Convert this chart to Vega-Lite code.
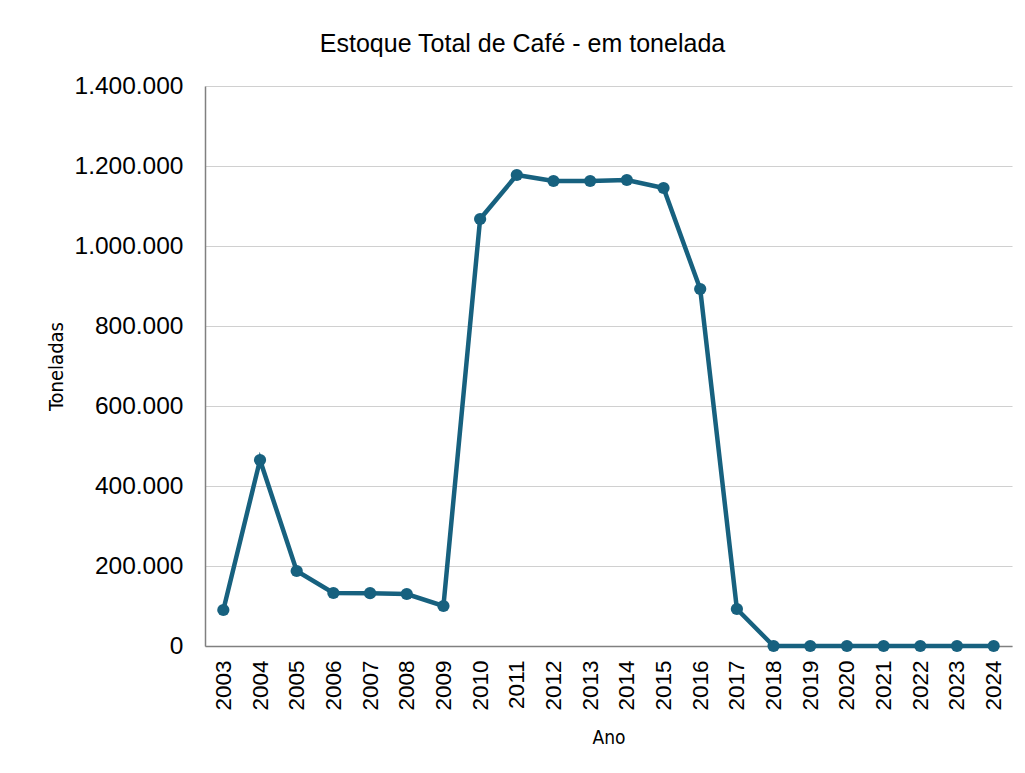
{
  "$schema": "https://vega.github.io/schema/vega-lite/v6.json",
  "width": 807,
  "height": 560,
  "autosize": {"type": "none"},
  "padding": {"left": 205, "top": 86, "right": 13, "bottom": 127},
  "background": "white",
  "config": {
    "locale": {"number": {"decimal": ",", "thousands": ".", "grouping": [3], "currency": ["R$", ""]}},
    "view": {"stroke": null},
    "font": "Liberation Sans"
  },
  "title": {
    "text": "Estoque Total de Café - em tonelada",
    "font": "Liberation Sans",
    "fontSize": 25,
    "fontWeight": "normal",
    "color": "#000000",
    "offset": 16,
    "anchor": "middle",
    "dx": -86
  },
  "data": {
    "values": [
      {"ano": "2003", "toneladas": 90000},
      {"ano": "2004", "toneladas": 465000},
      {"ano": "2005", "toneladas": 187500},
      {"ano": "2006", "toneladas": 132500},
      {"ano": "2007", "toneladas": 132000},
      {"ano": "2008", "toneladas": 130000},
      {"ano": "2009", "toneladas": 100000},
      {"ano": "2010", "toneladas": 1067500},
      {"ano": "2011", "toneladas": 1177500},
      {"ano": "2012", "toneladas": 1162500},
      {"ano": "2013", "toneladas": 1162500},
      {"ano": "2014", "toneladas": 1165000},
      {"ano": "2015", "toneladas": 1145000},
      {"ano": "2016", "toneladas": 892500},
      {"ano": "2017", "toneladas": 92500},
      {"ano": "2018", "toneladas": 0},
      {"ano": "2019", "toneladas": 0},
      {"ano": "2020", "toneladas": 0},
      {"ano": "2021", "toneladas": 0},
      {"ano": "2022", "toneladas": 0},
      {"ano": "2023", "toneladas": 0},
      {"ano": "2024", "toneladas": 0}
    ]
  },
  "mark": {"type": "line", "color": "#17617f", "strokeWidth": 4.5, "point": {"filled": true, "size": 150, "color": "#17617f", "opacity": 1}},
  "encoding": {
    "x": {
      "field": "ano",
      "type": "ordinal",
      "scale": {"type": "point", "padding": 0.5},
      "axis": {
        "title": "Ano",
        "titleFont": "DejaVu Sans Condensed",
        "titleFontSize": 19,
        "titleFontWeight": "normal",
        "titleColor": "#000000",
        "titlePadding": 18,
        "labelAngle": -90,
        "labelFontSize": 22.5,
        "labelColor": "#000000",
        "labelPadding": 14,
        "ticks": false,
        "domainColor": "#808080",
        "domainWidth": 1.5,
        "grid": false
      }
    },
    "y": {
      "field": "toneladas",
      "type": "quantitative",
      "scale": {"domain": [0, 1400000], "nice": false},
      "axis": {
        "title": "Toneladas",
        "titleFont": "DejaVu Sans Condensed",
        "titleFontSize": 20,
        "titleFontWeight": "normal",
        "titleColor": "#000000",
        "titlePadding": 8,
        "values": [0, 200000, 400000, 600000, 800000, 1000000, 1200000, 1400000],
        "format": ",d",
        "labelFontSize": 24.5,
        "labelColor": "#000000",
        "labelPadding": 22,
        "ticks": false,
        "domainColor": "#808080",
        "domainWidth": 1.5,
        "gridColor": "#d0d0d0",
        "gridWidth": 1.2
      }
    }
  }
}
